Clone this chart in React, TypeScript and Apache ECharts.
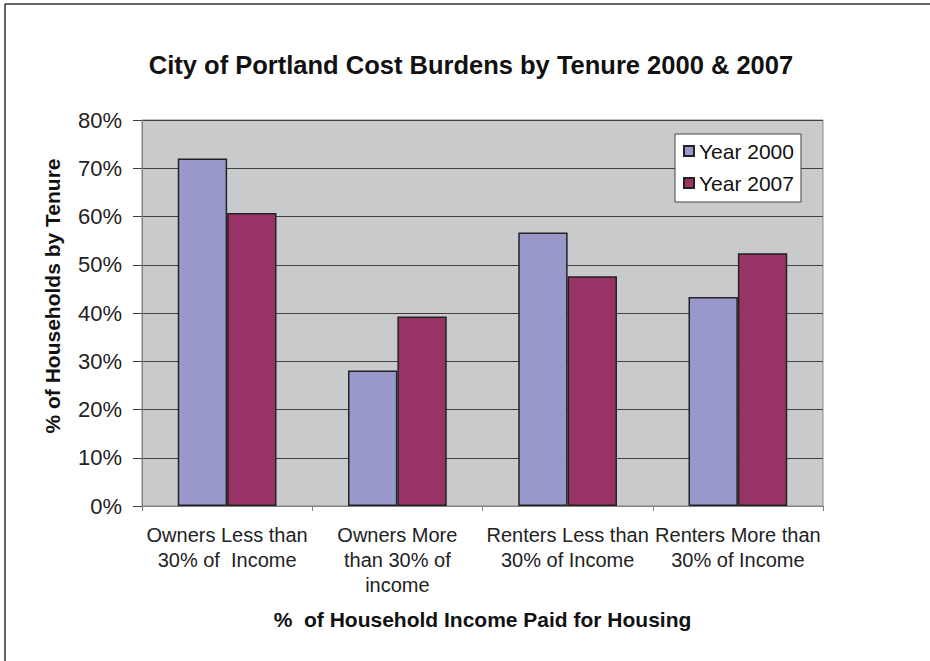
import React, { useEffect, useRef } from "react";
import * as echarts from "echarts";

const categories = [
  "Owners Less than\n30% of  Income",
  "Owners More\nthan 30% of\nincome",
  "Renters Less than\n30% of Income",
  "Renters More than\n30% of Income",
];
const year2000 = [72.0, 28.1, 56.7, 43.3];
const year2007 = [60.7, 39.3, 47.6, 52.4];
const seriesNames = ["Year 2000", "Year 2007"];

const FONT = "'Liberation Sans', Arial, Helvetica, sans-serif";

export default function App() {
  const ref = useRef<HTMLDivElement>(null);
  useEffect(() => {
    if (!ref.current) return;
    const chart = echarts.init(ref.current, null, { renderer: "svg" });
    chart.setOption({
      animation: false,
      backgroundColor: "#ffffff",
      textStyle: { fontFamily: FONT },
      title: {
        text: "City of Portland Cost Burdens by Tenure 2000 & 2007",
        left: 466,
        textAlign: "center",
        top: 47,
        textStyle: { fontFamily: FONT, fontSize: 25.5, fontWeight: "bold", color: "#111" },
      },
      legend: {
        orient: "vertical",
        left: 675,
        top: 134,
        data: seriesNames,
        backgroundColor: "#ffffff",
        borderColor: "#444",
        borderWidth: 1,
        borderRadius: 0,
        padding: [6, 7, 8, 8],
        itemGap: 10,
        itemWidth: 10,
        itemHeight: 10,
        icon: "rect",
        textStyle: { fontFamily: FONT, fontSize: 21, color: "#111", lineHeight: 22 },
      },
      grid: {
        left: 142,
        right: 107,
        top: 120,
        bottom: 155,
        show: true,
        backgroundColor: "#c9cacc",
        borderColor: "#8a8a8a",
        borderWidth: 1,
        outerBoundsMode: "none",
        containLabel: false,
      },
      xAxis: {
        type: "category",
        data: categories,
        name: "%  of Household Income Paid for Housing",
        nameLocation: "middle",
        nameGap: 103,
        nameTextStyle: { fontFamily: FONT, fontSize: 21, fontWeight: "bold", color: "#111" },
        axisLine: { show: true, lineStyle: { color: "#808080", width: 1 } },
        axisTick: { show: true, length: 5, lineStyle: { color: "#808080" } },
        axisLabel: {
          interval: 0,
          margin: 16,
          fontFamily: FONT,
          fontSize: 20,
          lineHeight: 25,
          color: "#222",
        },
        splitLine: { show: false },
      },
      yAxis: {
        type: "value",
        min: 0,
        max: 80,
        interval: 10,
        axisLine: { show: true, lineStyle: { color: "#808080", width: 1 } },
        axisTick: { show: true, length: 9, lineStyle: { color: "#404040" } },
        axisLabel: {
          formatter: "{value}%",
          margin: 20,
          fontFamily: FONT,
          fontSize: 22,
          color: "#222",
        },
        splitLine: { show: true, lineStyle: { color: "#404040", width: 1 } },
      },
      series: [
        {
          name: seriesNames[0],
          type: "bar",
          data: year2000,
          barGap: "0%",
          barCategoryGap: "42%",
          itemStyle: { color: "#9898ca", borderColor: "#222", borderWidth: 1.5 },
        },
        {
          name: seriesNames[1],
          type: "bar",
          data: year2007,
          itemStyle: { color: "#993366", borderColor: "#222", borderWidth: 1.5 },
        },
      ],
      graphic: [
        {
          type: "line",
          shape: { x1: 5, y1: 4, x2: 930, y2: 4 },
          style: { stroke: "#333", lineWidth: 1.5 },
          silent: true,
        },
        {
          type: "line",
          shape: { x1: 5, y1: 4, x2: 5, y2: 661 },
          style: { stroke: "#333", lineWidth: 1.5 },
          silent: true,
        },
        {
          type: "text",
          x: 52,
          y: 296,
          rotation: Math.PI / 2,
          style: {
            text: "% of Households by Tenure",
            fontFamily: FONT,
            fontSize: 21,
            fontWeight: "bold",
            fill: "#111",
            align: "center",
            verticalAlign: "middle",
          },
          silent: true,
        },
      ],
    });
    return () => chart.dispose();
  }, []);
  return (
    <div
      ref={ref}
      style={{ position: "fixed", left: 0, top: 0, width: 930, height: 661 }}
    />
  );
}
